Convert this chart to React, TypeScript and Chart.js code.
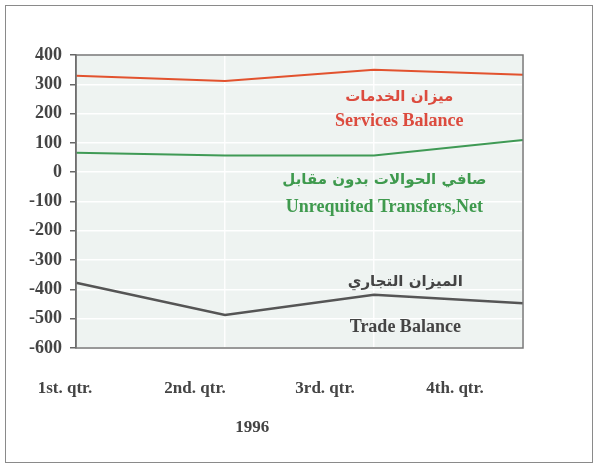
import React, { useEffect, useRef } from "react";
import { Chart, registerables } from "chart.js";

Chart.register(...registerables);

const quarters = ["1st. qtr.", "2nd. qtr.", "3rd. qtr.", "4th. qtr."];
const yearLabel = "1996";
const servicesBalance = [329, 311, 350, 333];
const unrequitedTransfers = [66, 57, 57, 110];
const tradeBalance = [-377, -487, -418, -447];
const yTicks = [400, 300, 200, 100, 0, -100, -200, -300, -400, -500, -600];

const seriesColors = ["#e2522e", "#3f9a55", "#555555"];
const labelColors = ["#dc4b3e", "#3f9a4e", "#444444"];

// annotation labels: [x index, y value, text, colour index, isArabic]
const annotations: [number, number, string, number, boolean][] = [
  [2.17, 257, "ميزان الخدمات", 0, true],
  [2.17, 175, "Services Balance", 0, false],
  [2.07, -27, "صافي الحوالات بدون مقابل", 1, true],
  [2.07, -119, "Unrequited Transfers,Net", 1, false],
  [2.21, -375, "الميزان التجاري", 2, true],
  [2.21, -528, "Trade Balance", 2, false],
];

const SERIF = "'Liberation Serif', 'Times New Roman', serif";
const ARABIC = "'DejaVu Sans', sans-serif";

export default function App() {
  const ref = useRef<HTMLCanvasElement | null>(null);

  useEffect(() => {
    if (!ref.current) return;
    const bgPlugin = {
      id: "plotBg",
      beforeDraw(chart: any) {
        const { ctx, chartArea: a } = chart;
        ctx.save();
        ctx.fillStyle = "#eef3f1";
        ctx.fillRect(a.left, a.top, a.right - a.left, a.bottom - a.top);
        ctx.restore();
      },
      afterDatasetsDraw(chart: any) {
        const { ctx, chartArea: a } = chart;
        ctx.save();
        ctx.strokeStyle = "#777";
        ctx.lineWidth = 1.5;
        ctx.strokeRect(a.left, a.top, a.right - a.left, a.bottom - a.top);
        const xs = chart.scales.x;
        const ys = chart.scales.y;
        ctx.textAlign = "center";
        ctx.textBaseline = "middle";
        for (const [xv, yv, text, ci, ar] of annotations) {
          ctx.fillStyle = labelColors[ci];
          ctx.font = ar ? `bold 15px ${ARABIC}` : `bold 18px ${SERIF}`;
          ctx.fillText(text, xs.getPixelForValue(xv), ys.getPixelForValue(yv));
        }
        const x2 = chart.scales.x2;
        ctx.fillStyle = "#444";
        ctx.font = `bold 17px ${SERIF}`;
        ctx.fillText(yearLabel, x2.getPixelForValue(1.44), a.bottom + 80);
        ctx.restore();
      },
    };

    const x2Min = 0.0846;
    const x2Max = 3.523;

    const chart = new Chart(ref.current, {
      type: "line",
      data: {
        labels: quarters,
        datasets: [
          { label: "Services Balance", data: servicesBalance, borderColor: seriesColors[0], borderWidth: 2, pointRadius: 0, tension: 0 },
          { label: "Unrequited Transfers,Net", data: unrequitedTransfers, borderColor: seriesColors[1], borderWidth: 2, pointRadius: 0, tension: 0 },
          { label: "Trade Balance", data: tradeBalance, borderColor: seriesColors[2], borderWidth: 2.5, pointRadius: 0, tension: 0 },
        ],
      },
      options: {
        animation: false,
        responsive: false,
        devicePixelRatio: 1,
        layout: { padding: { left: 0, top: 55, right: 77, bottom: 0 } },
        plugins: { legend: { display: false }, tooltip: { enabled: false }, title: { display: false } },
        scales: {
          x: {
            type: "category",
            offset: false,
            position: "bottom",
            grid: { color: "rgba(255,255,255,0.9)", lineWidth: 1.5, drawTicks: false },
            border: { display: false },
            ticks: { display: false },
            afterFit: (s: any) => { s.height = 0; },
          },
          x2: {
            type: "linear",
            position: "bottom",
            min: x2Min,
            max: x2Max,
            grid: { display: false },
            border: { display: false },
            afterBuildTicks: (s: any) => { s.ticks = quarters.map((_, i) => ({ value: i })); },
            ticks: {
              padding: 22,
              color: "#444",
              font: { family: SERIF, size: 17, weight: "bold" },
              maxRotation: 0,
              autoSkip: false,
              callback: (v: any) => quarters[v as number] ?? "",
            },
            afterFit: (s: any) => { s.height = 116; },
          },
          y: {
            min: -600,
            max: 400,
            afterBuildTicks: (s: any) => { s.ticks = yTicks.map((v) => ({ value: v })); },
            grid: { color: "rgba(255,255,255,0.95)", lineWidth: 1.5, tickColor: "#666", tickLength: 6 },
            border: { color: "#555", width: 1.5 },
            ticks: {
              padding: 8,
              color: "#444",
              font: { family: SERIF, size: 18, weight: "bold" },
            },
            afterFit: (s: any) => { s.width = 76; },
          },
        },
      },
      plugins: [bgPlugin],
    });
    return () => chart.destroy();
  }, []);

  return (
    <div style={{ position: "fixed", left: 0, top: 0, width: 600, height: 464, background: "#fff" }}>
      <canvas ref={ref} width={600} height={464} style={{ position: "absolute", left: 0, top: 0, width: 600, height: 464 }} />
      <div style={{ position: "absolute", left: 5, top: 5, width: 586, height: 456, border: "1px solid #8a8a8a", pointerEvents: "none" }} />
    </div>
  );
}
